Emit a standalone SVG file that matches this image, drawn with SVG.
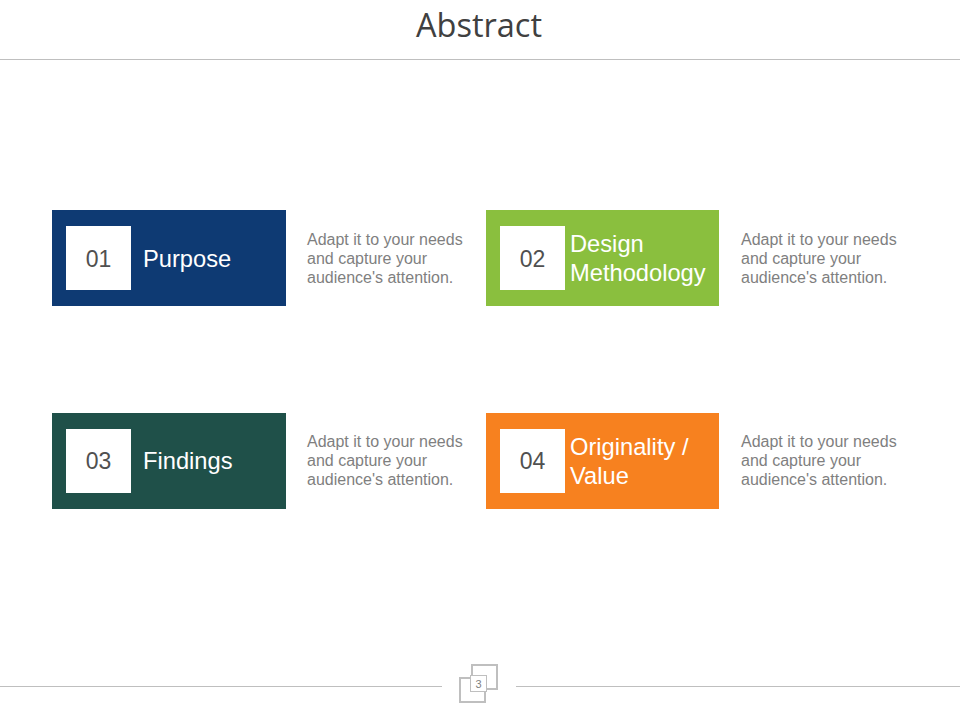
<svg xmlns="http://www.w3.org/2000/svg" width="960" height="720" viewBox="0 0 960 720">
<style>
.title{font-family:"Open Sans","Liberation Sans",sans-serif;font-size:32.5px;fill:#404040}
.num{font-family:"Liberation Sans",Arial,sans-serif;font-size:23px;fill:#505050}
.lbl{font-family:"Liberation Sans",Arial,sans-serif;font-size:23.7px;fill:#ffffff}
.desc{font-family:"Liberation Sans",Arial,sans-serif;font-size:16px;fill:#7f7f7f}
.rule{stroke:#bfbfbf;stroke-width:1.2;fill:none}
.sq{fill:#ffffff}
</style>
<rect width="960" height="720" fill="#ffffff"/>
<text class="title" x="479" y="37" text-anchor="middle">Abstract</text>
<line class="rule" x1="0" y1="59.5" x2="960" y2="59.5"/>
<g id="node1">
<rect x="52" y="210" width="234" height="96" fill="#0e3a73"/>
<rect class="sq" x="66" y="226" width="65" height="64"/>
<text class="num" x="98.5" y="267" text-anchor="middle">01</text>
<text class="lbl" x="143" y="267">Purpose</text>
<text class="desc" x="307" y="245">Adapt it to your needs</text>
<text class="desc" x="307" y="264">and capture your</text>
<text class="desc" x="307" y="283">audience's attention.</text>
</g>
<g id="node2">
<rect x="486" y="210" width="233" height="96" fill="#8abf3e"/>
<rect class="sq" x="500" y="226" width="65" height="64"/>
<text class="num" x="532.5" y="267" text-anchor="middle">02</text>
<text class="lbl" x="570" y="252">Design</text>
<text class="lbl" x="570" y="281">Methodology</text>
<text class="desc" x="741" y="245">Adapt it to your needs</text>
<text class="desc" x="741" y="264">and capture your</text>
<text class="desc" x="741" y="283">audience's attention.</text>
</g>
<g id="node3">
<rect x="52" y="413" width="234" height="96" fill="#1f5049"/>
<rect class="sq" x="66" y="429" width="65" height="64"/>
<text class="num" x="98.5" y="469" text-anchor="middle">03</text>
<text class="lbl" x="143" y="469">Findings</text>
<text class="desc" x="307" y="447">Adapt it to your needs</text>
<text class="desc" x="307" y="466">and capture your</text>
<text class="desc" x="307" y="485">audience's attention.</text>
</g>
<g id="node4">
<rect x="486" y="413" width="233" height="96" fill="#f7811f"/>
<rect class="sq" x="500" y="429" width="65" height="64"/>
<text class="num" x="532.5" y="469" text-anchor="middle">04</text>
<text class="lbl" x="570" y="455">Originality /</text>
<text class="lbl" x="570" y="484">Value</text>
<text class="desc" x="741" y="447">Adapt it to your needs</text>
<text class="desc" x="741" y="466">and capture your</text>
<text class="desc" x="741" y="485">audience's attention.</text>
</g>
<g id="connectors"></g>
<g id="footer">
<line class="rule" x1="0" y1="686.5" x2="442" y2="686.5"/>
<line class="rule" x1="516" y1="686.5" x2="960" y2="686.5"/>
<rect x="472" y="665" width="25" height="24" fill="#ffffff" stroke="#bfbfbf" stroke-width="2"/>
<rect x="460" y="678" width="25" height="24" fill="#ffffff" stroke="#bfbfbf" stroke-width="2"/>
<rect x="470.5" y="675.5" width="16" height="16" fill="#ffffff" stroke="#bfbfbf" stroke-width="1"/>
<text x="478.5" y="688" text-anchor="middle" font-family="Liberation Sans, Arial, sans-serif" font-size="11" fill="#7f7f7f">3</text>
</g>
</svg>
